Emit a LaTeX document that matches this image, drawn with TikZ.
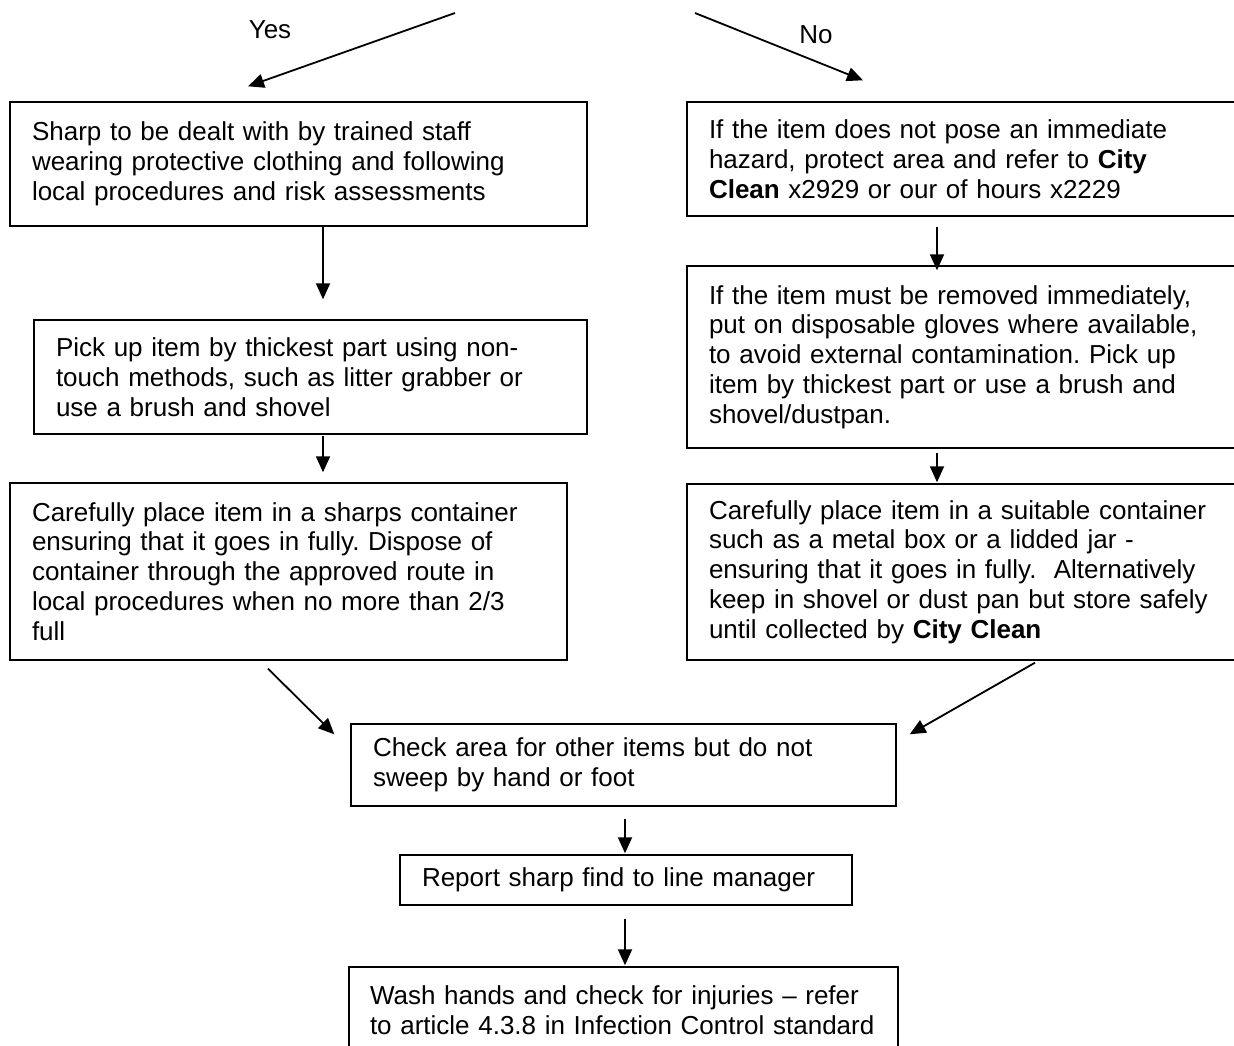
\documentclass[tikz,border=0pt]{standalone}
\usepackage{fontspec}
\setmainfont{Liberation Sans}
\usetikzlibrary{arrows.meta}
\begin{document}
\frenchspacing
\begin{tikzpicture}[x=1pt,y=-1pt,
  box/.style={draw, line width=1.4pt, rectangle, fill=white, align=left,
    inner xsep=22pt, inner ysep=0pt, font=\fontsize{26}{29.8}\selectfont\frenchspacing},
  lbl/.style={font=\fontsize{26}{29.8}\selectfont, inner sep=0pt},
  arr/.style={line width=1.8pt, -{Triangle[length=16pt,width=14pt]}}]
\useasboundingbox (0,0) rectangle (1234,1046);
\clip (0,0) rectangle (1234,1046);
\fill[white] (0,0) rectangle (1234,1046);

% labels
\node[lbl] (yes) at (270,30) {Yes};
\node[lbl] (no) at (816,35) {No};

% boxes
\node[box, minimum width=577pt, minimum height=124pt, text width=533pt] (tl) at (298.5,164)
  {Sharp to be dealt with by trained staff\\wearing protective clothing and following\\local procedures and risk assessments};
\node[box, minimum width=563pt, minimum height=114pt, text width=519pt] (tr) at (968.5,159)
  {If the item does not pose an immediate\\hazard, protect area and refer to \textbf{City}\\\textbf{Clean} x2929 or our of hours x2229};
\node[box, minimum width=553pt, minimum height=114pt, text width=509pt] (b2) at (310.5,377)
  {Pick up item by thickest part using non-\\touch methods, such as litter grabber or\\use a brush and shovel};
\node[box, minimum width=563pt, minimum height=182pt, text width=519pt] (r2) at (968.5,357)
  {If the item must be removed immediately,\\put on disposable gloves where available,\\to avoid external contamination. Pick up\\item by thickest part or use a brush and\\shovel/dustpan.};
\node[box, minimum width=557pt, minimum height=177pt, text width=513pt] (l3) at (288.5,571.5)
  {Carefully place item in a sharps container\\ensuring that it goes in fully. Dispose of\\container through the approved route in\\local procedures when no more than 2/3\\full};
\node[box, minimum width=563pt, minimum height=176pt, text width=519pt] (r3) at (968.5,572)
  {Carefully place item in a suitable container\\such as a metal box or a lidded jar -\\ensuring that it goes in fully.\ \ Alternatively\\keep in shovel or dust pan but store safely\\until collected by \textbf{City Clean}};
\node[box, minimum width=545pt, minimum height=82pt, text width=501pt] (chk) at (623.5,765)
  {Check area for other items but do not\\sweep by hand or foot};
\node[box, minimum width=452pt, minimum height=50pt, text width=408pt] (rep) at (626,880)
  {Report sharp find to line manager};
\node[box, minimum width=549pt, minimum height=86pt, inner xsep=21pt, text width=507pt] (wash) at (623.5,1010)
  {\mbox{Wash hands and check for injuries -- refer}\\\mbox{to article 4.3.8 in Infection Control standard}};

% helper coordinates for connector x positions
\coordinate (cl) at (323,0);
\coordinate (cr) at (937,0);
\coordinate (cc) at (625,0);
\coordinate (yesS) at (455,13);
\coordinate (noS) at (695,13);

% decision branches
\draw[arr] (yesS) -- ([shift={(-50.5,-15)}]tl.north);
\draw[arr] (noS) -- ([shift={(-105.5,-21)}]tr.north);

% left column
\draw[arr, shorten >=20pt] (tl.south -| cl) -- (b2.north -| cl);
\draw[arr, shorten <=1pt, shorten >=10pt] (b2.south -| cl) -- (l3.north -| cl);

% right column
\draw[arr, shorten <=10pt, shorten >=-5pt] (tr.south -| cr) -- (r2.north -| cr);
\draw[arr, shorten <=4pt, shorten >=1pt] (r2.south -| cr) -- (r3.north -| cr);

% merge
\draw[arr] ([shift={(-20.5,8)}]l3.south) -- ([shift={(-16,11)}]chk.north west);
\draw[arr] ([shift={(66.5,2)}]r3.south) -- ([shift={(13,11)}]chk.north east);

% centre column
\draw[arr, shorten <=12pt, shorten >=1pt] (chk.south -| cc) -- (rep.north -| cc);
\draw[arr, shorten <=13pt, shorten >=1pt] (rep.south -| cc) -- (wash.north -| cc);
\end{tikzpicture}
\end{document}
